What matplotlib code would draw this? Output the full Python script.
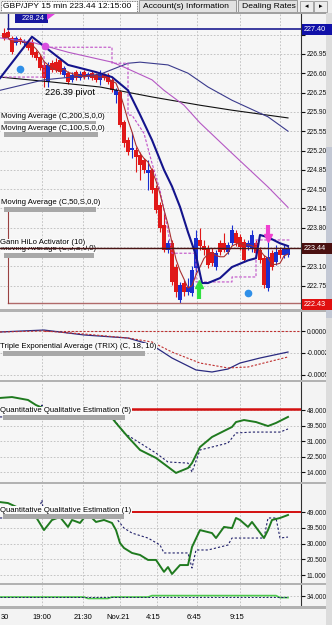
import numpy as np
import pandas as pd
import matplotlib
matplotlib.use('Agg')
import matplotlib.pyplot as plt
from matplotlib.patches import Rectangle, Polygon

W, H = 332, 625
NARROW = ['Liberation Sans Narrow', 'Liberation Sans', 'DejaVu Sans']
WIDE = ['Liberation Sans', 'DejaVu Sans']
plt.rcParams['font.family'] = NARROW

# GBP/JPY 15 min candles, bar index 0..71
opens = [227.33, 227.35, 227.24, 227.15, 227.22, 227.15, 227.16, 227.16, 226.98, 226.89,
         226.75, 226.44, 226.78, 226.80, 226.84, 226.57, 226.60, 226.48, 226.62, 226.51,
         226.62, 226.53, 226.60, 226.57, 226.48, 226.57, 226.57, 226.48, 226.20, 226.26,
         225.71, 225.39, 225.21, 225.21, 225.12, 225.03, 224.79, 224.85, 224.52, 224.21,
         223.85, 223.40, 223.52, 223.09, 222.49, 222.80, 222.63, 222.62, 223.07, 223.58,
         223.47, 223.43, 223.36, 223.09, 223.52, 223.52, 223.36, 223.52, 223.70, 223.63,
         223.54, 223.45, 223.43, 223.52, 223.40, 223.25, 222.71, 223.34, 223.18, 223.40,
         223.31, 223.31]
closes = [227.24, 227.26, 226.98, 227.24, 227.16, 227.18, 227.06, 226.93, 226.87, 226.69,
          226.51, 226.75, 226.66, 226.66, 226.62, 226.69, 226.44, 226.57, 226.51, 226.58,
          226.53, 226.58, 226.51, 226.48, 226.57, 226.51, 226.44, 226.29, 226.29, 225.66,
          225.33, 225.17, 225.24, 225.08, 224.94, 224.85, 224.85, 224.48, 224.12, 223.79,
          223.40, 223.52, 222.82, 222.63, 222.76, 222.63, 222.72, 223.03, 223.61, 223.47,
          223.40, 223.12, 223.16, 223.34, 223.36, 223.40, 223.49, 223.76, 223.52, 223.45,
          223.21, 223.52, 223.67, 223.34, 223.21, 222.76, 223.27, 223.09, 223.36, 223.31,
          223.43, 223.44]
highs = [227.42, 227.38, 227.27, 227.27, 227.26, 227.22, 227.20, 227.22, 227.02, 226.93,
         226.80, 226.80, 226.84, 226.87, 226.87, 226.73, 226.64, 226.62, 226.66, 226.64,
         226.66, 226.62, 226.64, 226.60, 226.66, 226.60, 226.60, 226.51, 226.33, 226.29,
         225.75, 225.44, 225.53, 225.26, 225.17, 225.06, 225.03, 224.88, 224.57, 224.27,
         224.07, 223.58, 223.58, 223.14, 222.82, 222.85, 222.89, 223.11, 223.76, 223.79,
         223.58, 223.49, 223.43, 223.40, 223.58, 223.70, 223.54, 223.85, 223.76, 223.69,
         223.60, 223.58, 223.76, 223.58, 223.45, 223.31, 223.58, 223.40, 223.49, 223.45,
         223.49, 223.47]
lows = [227.20, 227.22, 226.95, 227.11, 227.13, 227.11, 227.02, 226.89, 226.84, 226.66,
        226.35, 226.35, 226.62, 226.62, 226.58, 226.53, 226.40, 226.44, 226.48, 226.48,
        226.49, 226.49, 226.48, 226.44, 226.39, 226.48, 226.40, 226.26, 226.06, 225.62,
        225.26, 225.12, 225.06, 224.81, 224.66, 224.79, 224.48, 224.43, 224.07, 223.72,
        223.36, 223.34, 222.76, 222.54, 222.43, 222.56, 222.58, 222.56, 223.00, 223.40,
        223.31, 223.07, 223.11, 223.03, 223.31, 223.36, 223.33, 223.49, 223.47, 223.40,
        223.18, 223.40, 223.36, 223.29, 223.16, 222.71, 222.65, 223.03, 223.12, 223.25,
        223.25, 223.27]

# overlay lines (bar index, price)
hilo_x = [-1, 7, 16, 23, 27, 31, 34, 37, 40, 42, 44, 46, 48, 49.5, 51, 54, 57, 61, 63, 64, 66, 69, 71]
hilo_y = [226.51, 227.26, 226.75, 226.62, 226.53, 226.29, 225.85, 225.39, 224.85, 224.55, 224.18,
          223.72, 223.30, 222.80, 222.80, 222.89, 223.09, 223.21, 223.25, 223.67, 223.63, 223.52, 223.47]
ma200_x = [-1, 12, 24, 37, 49, 57, 66, 71]
ma200_y = [226.53, 226.44, 226.35, 226.17, 226.02, 225.93, 225.84, 225.79]
ma100_x = [-1, 10, 24, 31, 34, 41, 46, 51, 57, 66, 71]
ma100_y = [226.29, 226.48, 226.58, 226.78, 226.80, 226.75, 226.60, 226.35, 226.11, 225.81, 225.55]
ma50_x = [-1, 7, 16, 27, 30, 37, 40, 45, 49, 57, 66, 71]
ma50_y = [227.24, 227.16, 226.98, 226.80, 226.71, 226.48, 226.29, 226.02, 225.70, 225.15, 224.54, 224.17]
gann_x = [-1, 10, 10, 27, 27, 31, 31, 32, 35, 37, 39, 40, 42, 48, 48, 57, 57, 63, 63, 71.5]
gann_y = [226.53, 226.53, 227.07, 227.07, 226.78, 226.78, 225.84, 225.84, 225.51, 224.97, 224.48,
          224.12, 223.34, 223.34, 222.82, 222.82, 222.91, 222.91, 223.58, 223.58]

price_ticks = [227.30, 226.95, 226.60, 226.25, 225.90, 225.55, 225.20, 224.85, 224.50,
               224.15, 223.80, 223.45, 223.10, 222.75]
price_labels = ['', '226.95', '226.60', '226.25', '225.90', '225.55', '225.20', '224.85',
                '224.50', '224.15', '223.80', '', '223.10', '222.75']

# TRIX (x 1e-4)
trix_x = [-1, 10, 20, 31, 37, 42, 48, 52, 56, 59, 64, 71]
trix_main = [-0.11, 0.11, -0.45, -0.80, -1.59, -3.07, -4.43, -4.66, -4.32, -3.64, -3.07, -2.39]
trix_sig_x = [-1, 10, 20, 31, 37, 42, 49, 56, 61, 66, 71]
trix_sig = [-0.11, 0.0, -0.34, -0.80, -1.25, -2.39, -3.64, -4.20, -4.09, -3.52, -2.95]

# QQE (5)
qqe5_x = [-1, 2, 6, 8, 15, 18, 24, 27, 28, 31, 34, 37, 38, 41, 43, 46, 47, 49, 52, 54, 57, 58, 60,
          63, 66, 68, 71]
qqe5_fast = [54.6, 55.1, 53.5, 50.7, 44.2, 43.6, 44.2, 43.6, 40.9, 33.2, 26.1, 22.8, 21.7, 16.8,
             13.5, 16.2, 18.9, 27.7, 33.2, 35.4, 38.7, 41.4, 42.5, 41.4, 39.2, 40.9, 44.2]
qqe5_slow_x = [-1, 9, 9.5, 10, 27, 30, 34, 38, 41, 46, 47, 49, 52, 56, 58, 62, 69, 71]
qqe5_slow = [44.2, 44.2, 50.7, 44.2, 44.2, 35.4, 29.9, 24.4, 19.5, 18.9, 14.0, 26.1, 27.7, 29.9,
             35.4, 35.9, 35.9, 37.6]

# QQE (1)
qqe1_x = [-1, 1, 5, 8, 10, 12, 14, 16, 17, 19, 20, 22, 23, 25, 27, 28, 29, 30, 32, 34, 36, 38, 40,
          41, 42, 44, 46, 47, 49, 52, 53, 55, 57, 58, 59, 61, 62, 65, 66, 67, 69, 71]
qqe1_fast = [55.0, 54.4, 50.0, 46.0, 38.1, 44.2, 46.0, 40.0, 44.2, 42.4, 45.4, 45.4, 43.0, 44.2,
             42.4, 38.1, 30.3, 27.3, 24.3, 23.1, 20.1, 20.1, 12.9, 15.8, 11.6, 17.0, 17.0, 27.9,
             38.1, 36.3, 33.3, 40.0, 39.3, 45.4, 44.2, 40.0, 43.0, 33.3, 38.1, 44.2, 45.4, 47.2]
qqe1_slow_x = [-1, 8, 9.5, 10, 28, 30, 32, 36, 39, 40, 46, 47, 48, 51, 56, 57, 65, 66, 68, 69, 71]
qqe1_slow = [45.4, 45.4, 56.2, 45.4, 45.4, 39.3, 36.3, 33.3, 29.1, 24.3, 24.3, 15.2, 26.1, 26.1,
             29.1, 33.3, 33.3, 45.4, 45.4, 33.3, 33.9]

# bottom strip
vol_x = [-1, 20, 21, 26, 27, 36, 37, 68, 69, 71]
vol_green = [33.8, 33.8, 33.3, 33.3, 33.8, 33.8, 34.3, 34.3, 33.6, 33.6]
vol_slow_x = [-1, 71]
vol_slow = [33.8, 33.8]

time_pos = [0.3, 9.5, 19.8, 28.5, 37.2, 47.5, 58.2]
time_labels = ['30', '19:00', '21:30', 'Nov.21', '4:15', '6:45', '9:15']
GRID_X = [9.5, 19.75, 29, 38.25, 48.25, 59, 69]
XLIM = (-1, 74.25)

fig = plt.figure(figsize=(W / 100, H / 100), dpi=100)
fig.patch.set_facecolor('#f3f3f3')


def rect(x0, y0, x1, y1):
    return [x0 / W, 1 - y1 / H, (x1 - x0) / W, (y1 - y0) / H]


def fbox(x0, y0, x1, y1, **kw):
    fig.add_artist(Rectangle((x0 / W, 1 - y1 / H), (x1 - x0) / W, (y1 - y0) / H,
                             transform=fig.transFigure, **kw))


def ftext(x, y, s, **kw):
    fig.text(x / W, 1 - y / H, s, **kw)


def panel(y0, y1, ylim, ticks, labels):
    ax = fig.add_axes(rect(0, y0, 301, y1))
    ax.set_facecolor('#f6f6f6')
    ax.set_xlim(*XLIM)
    ax.set_ylim(*ylim)
    for s in ['top', 'left', 'bottom']:
        ax.spines[s].set_visible(False)
    ax.spines['right'].set_color('#303030')
    ax.yaxis.tick_right()
    ax.set_yticks(ticks, labels)
    ax.tick_params(axis='y', length=3, width=0.8, pad=1, labelsize=4.8, colors='#111111')
    ax.set_xticks(GRID_X)
    ax.tick_params(axis='x', length=0, labelbottom=False)
    ax.grid(True, color='#bcbcbc', lw=0.6, ls=(0, (2, 2)))
    ax.set_axisbelow(True)
    return ax


def tag(ax, x, y, s, w):
    ax.add_patch(Rectangle(((x + 3) / W, 1 - (y + 9) / H), w / W, 7 / H, transform=fig.transFigure,
                           facecolor='#a8a8a8', edgecolor='none', clip_on=False, zorder=6))
    ax.text(x / W, 1 - y / H, s, transform=fig.transFigure, fontsize=5.6, va='center', ha='left',
            bbox=dict(facecolor='#fbfbfb', edgecolor='none', pad=0.3), clip_on=False, zorder=7)


# ---------------- price panel ----------------
ax = panel(13, 309, (222.33, 227.69), price_ticks, price_labels)
idx = np.arange(len(closes))
o = np.array(opens)
c = np.array(closes)
col = np.where(c >= o, '#1a2fd0', '#e01818')
ax.vlines(idx, lows, highs, colors=col, lw=0.8, zorder=3)
ax.bar(idx, np.maximum(np.abs(c - o), 0.015), bottom=np.minimum(o, c), width=0.8, color=col,
       lw=0, zorder=3)

ma5 = pd.Series(closes).rolling(5, min_periods=1).mean()
ax.plot(ma200_x, ma200_y, color='#111111', lw=0.8, zorder=4)
ax.plot(ma100_x, ma100_y, color='#3a3a8c', lw=0.8, zorder=4)
ax.plot(ma50_x, ma50_y, color='#b558c4', lw=0.8, zorder=4)
ax.plot(gann_x, gann_y, color='#c050c8', lw=0.8, ls=(0, (2.5, 1.5)), zorder=4)
ax.plot(idx, ma5, color='#a83030', lw=0.8, zorder=4)
ax.plot(hilo_x, hilo_y, color='#14148c', lw=1.5, zorder=5)

# level lines
ax.plot([1, XLIM[1]], [227.40, 227.40], color='#1c1c90', lw=1.2, zorder=5)
ax.plot([1, 1], [227.40, 227.69], color='#1c1c90', lw=1.0, zorder=5)
ax.plot([1, XLIM[1]], [222.43, 222.43], color='#b06a6a', lw=1.0, zorder=5)
ax.plot([1, 1], [222.43, 224.12], color='#9a4040', lw=0.8, zorder=5)

# signals
ax.plot([4, 61], [226.68, 222.62], 'o', color='#2f8fe8', ms=4.5, zorder=6)
ax.plot([10.25], [227.09], 'o', color='#d850e0', ms=4.5, zorder=6)
ax.plot([48.75, 48.75], [222.52, 222.74], color='#30e040', lw=3, solid_capstyle='butt', zorder=6)
ax.plot([48.75], [222.78], '^', color='#30e040', ms=6, zorder=6)
ax.plot([66, 66], [223.86, 223.66], color='#f040d0', lw=3, solid_capstyle='butt', zorder=6)
ax.plot([66], [223.61], 'v', color='#f040d0', ms=6, zorder=6)

ax.text(10.3, 226.25, '226.39 pivot', fontsize=6.6, family=WIDE, va='center', zorder=6)

tag(ax, 1, 117, 'Moving Average (C,200,S,0,0)', 92)
tag(ax, 1, 128, 'Moving Average (C,100,S,0,0)', 94)
tag(ax, 1, 203, 'Moving Average (C,50,S,0,0)', 92)
tag(ax, 1, 249, 'Moving Average (C,5,S,0,0)', 90)
tag(ax, 0, 243, 'Gann HiLo Activator (10)', 84)
ax.plot(XLIM, [223.44, 223.44], color='#4a1414', lw=1.0, zorder=8)

# ---------------- TRIX ----------------
ax2 = panel(312, 380, (-5.57, 2.16), [0, -2.5, -5], ['0.0000', '-0.0002', '-0.0005'])
ax2.plot([10, XLIM[1]], [0, 0], color='#c03030', lw=0.8, ls=(0, (2, 1.5)))
ax2.plot(trix_x, trix_main, color='#2a2a80', lw=0.9)
ax2.plot(trix_sig_x, trix_sig, color='#c03030', lw=0.8, ls=(0, (2, 1.5)))
tag(ax2, 0, 347, 'Triple Exponential Average (TRIX) (C, 18, 10)', 142)

# ---------------- QQE (5) ----------------
ax3 = panel(382, 482, (8.53, 63.35), [48, 39.5, 31, 22.5, 14],
            ['48.000', '39.500', '31.0000', '22.500', '14.0000'])
ax3.plot([30, XLIM[1]], [48.8, 48.8], color='#d41010', lw=1.8)
ax3.plot(qqe5_slow_x, qqe5_slow, color='#20206a', lw=0.8, ls=(0, (2, 1.8)))
ax3.plot(qqe5_x, qqe5_fast, color='#1f7a1f', lw=1.4)
tag(ax3, 0, 411, 'Quantitative Qualitative Estimation (5)', 122)

# ---------------- QQE (1) ----------------
ax4 = panel(484, 583, (6.18, 65.9), [49, 39.5, 30, 20.5, 11],
            ['49.000', '39.500', '30.000', '20.500', '11.0000'])
ax4.plot([30, XLIM[1]], [49, 49], color='#d41010', lw=1.4)
ax4.plot(qqe1_slow_x, qqe1_slow, color='#20206a', lw=0.8, ls=(0, (2, 1.8)))
ax4.plot(qqe1_x, qqe1_fast, color='#1f7a1f', lw=1.4)
tag(ax4, 0, 510, 'Quantitative Qualitative Estimation (1)', 121)

# ---------------- bottom strip ----------------
ax5 = panel(585, 606, (30.67, 38.0), [34], ['34.000'])
ax5.plot(vol_x, vol_green, color='#4cc84c', lw=1.2)
ax5.plot(vol_slow_x, vol_slow, color='#20206a', lw=0.7, ls=(0, (2, 1.8)))
ax5.xaxis.remove_overlapping_locs = False
ax5.set_xticks(time_pos, time_labels, minor=True)
ax5.tick_params(axis='x', which='minor', length=0, labelbottom=True, labelsize=5.4, pad=6)

# separators, scrollbar
for y0, y1 in [(309, 312), (380, 382), (482, 484), (583, 585), (606, 609)]:
    fbox(0, y0, 326, y1, facecolor='#b2b2b2', edgecolor='none')
fbox(326, 13, 332, 625, facecolor='#dcdcdc', edgecolor='none')
fbox(326, 147, 332, 318, facecolor='#c3c8d4', edgecolor='none')

# right-hand price flags
for y, txt, fc in [(29.5, '227.40', '#1010a8'), (248, '223.44', '#4a1010'), (304.5, '222.43', '#e01010')]:
    fbox(302, y - 5.5, 332, y + 5.5, facecolor=fc, edgecolor='none')
    ftext(304, y, txt, color='white', fontsize=5.2, va='center', ha='left')

# 228.24 flag
fbox(15, 14, 48, 23, facecolor='#1818a0', edgecolor='none')
ftext(22, 18.5, '228.24', color='white', fontsize=5.4, va='center', ha='left')
fig.add_artist(Polygon([(47 / W, 1 - 14 / H), (55 / W, 1 - 14 / H), (47 / W, 1 - 20 / H)],
                       closed=True, transform=fig.transFigure, facecolor='#e040e0', edgecolor='none'))

# tab strip
fbox(0, 0, 332, 13, facecolor='#eeeeee', edgecolor='none')
fbox(0.5, 0.5, 137, 12, facecolor='white', edgecolor='#555555', lw=0.6, ls=(0, (1, 1)))
ftext(3, 6.5, 'GBP/JPY 15 min 223.44 12:15:00', fontsize=6.1, family=WIDE, va='center')
for x0, x1, txt in [(139, 236, 'Account(s) Information'), (238, 297, 'Dealing Rates')]:
    fbox(x0, 0.5, x1, 13, facecolor='#e2e2e2', edgecolor='#8c8c8c', lw=0.6)
    ftext(x0 + 4, 7, txt, fontsize=6.1, family=WIDE, va='center')
for x0, ch in [(300, '\u25c2'), (314, '\u25b8')]:
    fbox(x0, 1, x0 + 13, 12, facecolor='#ececec', edgecolor='#9a9a9a', lw=0.6)
    ftext(x0 + 6.5, 6.5, ch, fontsize=5, family=['DejaVu Sans'], va='center', ha='center')
fbox(0, 12.5, 326, 13.5, facecolor='#a0a0a0', edgecolor='none')

fig.savefig('out.png', dpi=100, facecolor=fig.get_facecolor())
